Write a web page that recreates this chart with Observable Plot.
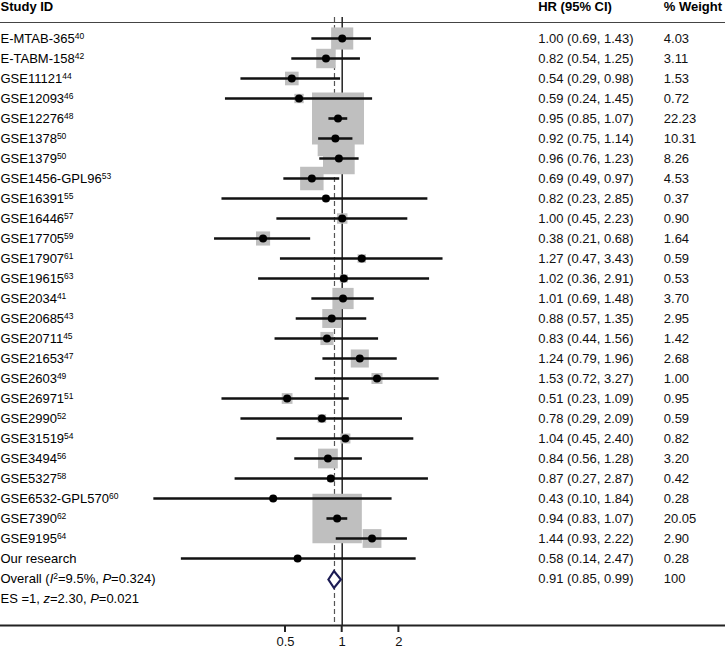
<!DOCTYPE html>
<html><head><meta charset="utf-8">
<script src="https://cdn.jsdelivr.net/npm/d3@7"></script>
<script src="https://cdn.jsdelivr.net/npm/@observablehq/plot@0.6"></script>
<style>body{margin:0;background:#fff} svg{display:block}</style>
</head><body><div id="chart"></div>
<script>
const studyNames = ["E-MTAB-365","E-TABM-158","GSE11121","GSE12093","GSE12276","GSE1378","GSE1379","GSE1456-GPL96","GSE16391","GSE16446","GSE17705","GSE17907","GSE19615","GSE2034","GSE20685","GSE20711","GSE21653","GSE2603","GSE26971","GSE2990","GSE31519","GSE3494","GSE5327","GSE6532-GPL570","GSE7390","GSE9195","Our research"];
const studyRefs = ["40","42","44","46","48","50","50","53","55","57","59","61","63","41","43","45","47","49","51","52","54","56","58","60","62","64",""];
const hrValues = [1.00,0.82,0.54,0.59,0.95,0.92,0.96,0.69,0.82,1.00,0.38,1.27,1.02,1.01,0.88,0.83,1.24,1.53,0.51,0.78,1.04,0.84,0.87,0.43,0.94,1.44,0.58];
const ciLower = [0.69,0.54,0.29,0.24,0.85,0.75,0.76,0.49,0.23,0.45,0.21,0.47,0.36,0.69,0.57,0.44,0.79,0.72,0.23,0.29,0.45,0.56,0.27,0.10,0.83,0.93,0.14];
const ciUpper = [1.43,1.25,0.98,1.45,1.07,1.14,1.23,0.97,2.85,2.23,0.68,3.43,2.91,1.48,1.35,1.56,1.96,3.27,1.09,2.09,2.40,1.28,2.87,1.84,1.07,2.22,2.47];
const weights = [4.03,3.11,1.53,0.72,22.23,10.31,8.26,4.53,0.37,0.90,1.64,0.59,0.53,3.70,2.95,1.42,2.68,1.00,0.95,0.59,0.82,3.20,0.42,0.28,20.05,2.90,0.28];
const overallLabel = "Overall (<i>I</i><sup>2</sup>=9.5%, <i>P</i>=0.324)";
const overallHR = 0.91, overallLower = 0.85, overallUpper = 0.99, overallWeight = "100";
const testLabel = "ES =1, <i>z</i>=2.30, <i>P</i>=0.021";
const headers = ["Study ID", "HR (95% CI)", "% Weight"];
const xTicks = [0.5, 1, 2];
const xTickLabels = ["0.5", "1", "2"];

const f2 = v => v.toFixed(2);
const studies = studyNames.map((n, i) => ({
  key: n, label: n + (studyRefs[i] ? "<sup>" + studyRefs[i] + "</sup>" : ""),
  hr: hrValues[i], lo: ciLower[i], hi: ciUpper[i], w: weights[i],
  hrText: `${f2(hrValues[i])} (${f2(ciLower[i])}, ${f2(ciUpper[i])})`, wText: f2(weights[i])
}));
const overall = [{key: "__overall", label: overallLabel, hr: overallHR, lo: overallLower, hi: overallUpper,
  hrText: `${f2(overallHR)} (${f2(overallLower)}, ${f2(overallUpper)})`, wText: overallWeight}];
const test = [{key: "__es", label: testLabel}];
const labelRows = [...studies, ...overall, ...test];
const numRows = [...studies, ...overall];
const rowKeys = labelRows.map(d => d.key);
const tickData = xTicks.map((v, i) => ({v, label: xTickLabels[i]}));

function richText(data) {
  return function(index, scales, values, dims, ctx, next) {
    const g = next(index, scales, values, dims, ctx);
    d3.select(g).selectAll("text").each(function(_, j) {
      const s = data[index[j]].label;
      const t = d3.select(this);
      t.text(null);
      let shifted = false;
      for (const part of s.split(/(<i>.*?<\/i>|<sup>.*?<\/sup>)/)) {
        if (!part) continue;
        let m, ts;
        if ((m = part.match(/^<i>(.*)<\/i>$/))) {
          ts = t.append("tspan").attr("font-style", "italic").text(m[1]);
          if (shifted) { ts.attr("dy", 3.5); shifted = false; }
        } else if ((m = part.match(/^<sup>(.*)<\/sup>$/))) {
          ts = t.append("tspan").attr("font-size", 8.5).attr("dy", -3.5).text(m[1]);
          shifted = true;
        } else {
          ts = t.append("tspan").text(part);
          if (shifted) { ts.attr("dy", 3.5); shifted = false; }
        }
      }
    });
    return g;
  };
}

const chart = Plot.plot({
  width: 725, height: 650,
  marginLeft: 0, marginRight: 0, marginTop: 0, marginBottom: 25,
  style: {fontFamily: "'Liberation Sans', Arial, sans-serif", fontSize: "13px", color: "#000", background: "#fff"},
  x: {type: "log", domain: [0.5, 2], range: [285, 398.4], axis: null},
  y: {type: "point", domain: rowKeys, range: [33, 603], padding: 0, axis: null},
  r: {type: "sqrt", domain: [0, 22.23], range: [0, 29.34]},
  marks: [
    Plot.ruleY([studyNames[0]], {dy: -16, stroke: "#444", strokeWidth: 1}),
    Plot.ruleX([1], {insetTop: 17, stroke: "#222", strokeWidth: 1.5}),
    Plot.ruleX([overallHR], {insetTop: 17, stroke: "#555", strokeWidth: 1.2, strokeDasharray: "5,3"}),
    Plot.dot(studies, {x: "hr", y: "key", r: "w", symbol: "square", fill: "#bfbfbf"}),
    Plot.ruleY(studies, {y: "key", x1: "lo", x2: "hi", stroke: "#111", strokeWidth: 2.6}),
    Plot.dot(studies, {x: "hr", y: "key", r: 4, fill: "#000"}),
    Plot.dot(overall, {x: "hr", y: "key", render(index, scales) {
      const g = d3.create("svg:g");
      for (const i of index) {
        const d = overall[i];
        const x0 = scales.x(d.lo), xm = scales.x(d.hr), x1 = scales.x(d.hi), y = scales.y(d.key) + 1.5;
        g.append("path").attr("d", `M${x0},${y}L${xm},${y - 8.5}L${x1},${y}L${xm},${y + 8.5}Z`)
          .attr("fill", "#fff").attr("stroke", "#1c1c54").attr("stroke-width", 2.2);
      }
      return g.node();
    }}),
    Plot.text([headers[0]], {frameAnchor: "top-left", textAnchor: "start", lineAnchor: "middle", dy: 6.5, fontWeight: "bold"}),
    Plot.text([headers[1]], {frameAnchor: "top-left", textAnchor: "start", lineAnchor: "middle", dy: 6.5, dx: 537.7, fontWeight: "bold"}),
    Plot.text([headers[2]], {frameAnchor: "top-left", textAnchor: "start", lineAnchor: "middle", dy: 6.5, dx: 663.3, fontWeight: "bold"}),
    Plot.text(labelRows, {y: "key", text: "key", frameAnchor: "left", textAnchor: "start", fill: "#000", render: richText(labelRows)}),
    Plot.text(numRows, {y: "key", text: "hrText", frameAnchor: "left", textAnchor: "start", dx: 537.7, fill: "#111"}),
    Plot.text(numRows, {y: "key", text: "wText", frameAnchor: "left", textAnchor: "start", dx: 663.3, fill: "#111"}),
    Plot.frame({anchor: "bottom", stroke: "#222", strokeWidth: 2}),
    Plot.tickX(tickData, {x: "v", render(index, scales, values, dims) {
      const g = d3.create("svg:g");
      const yb = dims.height - dims.marginBottom;
      for (const i of index) {
        const x = scales.x(tickData[i].v);
        g.append("line").attr("x1", x).attr("x2", x).attr("y1", yb).attr("y2", yb + 7).attr("stroke", "#222").attr("stroke-width", 2);
      }
      return g.node();
    }}),
    Plot.text(tickData, {x: "v", text: "label", frameAnchor: "bottom", lineAnchor: "top", dy: 11, fill: "#111", fontSize: 13})
  ]
});
document.getElementById("chart").appendChild(chart);
</script>
</body></html>
